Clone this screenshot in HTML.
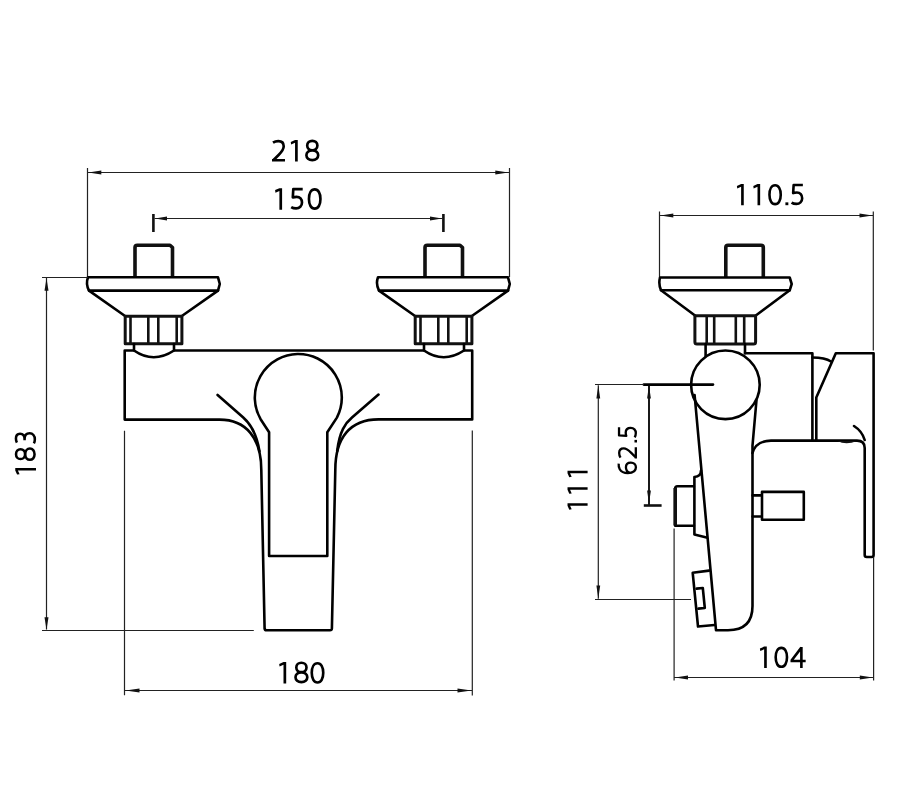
<!DOCTYPE html>
<html><head><meta charset="utf-8"><style>
html,body{margin:0;padding:0;background:#fff;width:899px;height:800px;overflow:hidden}
svg{display:block}
text{font-family:"Liberation Sans",sans-serif;fill:#1a1a1a}
.s2{fill:none;stroke:#000;stroke-width:2.6;stroke-linejoin:round;stroke-linecap:round}
.s25{fill:none;stroke:#111;stroke-width:2.6;stroke-linecap:butt}
.s3{fill:none;stroke:#111;stroke-width:3.6;stroke-linejoin:round;stroke-linecap:butt}
.s3n{fill:none;stroke:#111;stroke-width:3;stroke-linejoin:round}
.t1{fill:none;stroke:#222;stroke-width:1.2}
.t12{fill:none;stroke:#000;stroke-width:1.8}
.f{fill:#111;stroke:none}
.gs{fill:none;stroke:#000;stroke-width:2.65;stroke-linecap:butt;stroke-linejoin:round}
.gf{fill:#000;stroke:none}
</style></head><body>
<svg width="899" height="800" viewBox="0 0 899 800">
<rect width="899" height="800" fill="#fff"/>
<path class="t1" d="M87.5,168 V277 M509.5,168 V277 M88,172.5 H509"/>
<path d="M88.30,172.50 L101.30,170.50 L101.30,174.50 Z" class="f"/>
<path d="M508.30,172.50 L495.30,174.50 L495.30,170.50 Z" class="f"/>
<path transform="translate(272.00,161.60)" d="M1.0,-18.9 C2.5,-19.9 4.3,-20.45 6.3,-20.45 C9.7,-20.45 11.7,-18.4 11.7,-15.3 C11.7,-12.2 9.8,-9.8 6.6,-6.6 L1.3,-1.35 M0,-1.35 H13.0" class="gs"/>
<path transform="translate(290.75,161.60)" d="M4.3,-21.6 H7.0 V0 H4.3 V-18.85 L0.35,-17.1 L0,-19.7 Z" class="gf"/>
<path transform="translate(305.10,161.60)" d="M7.2,-20.8 C10.1,-20.8 12.3,-19.0 12.3,-16.1 C12.3,-13.2 10.1,-11.4 7.2,-11.4 C4.3,-11.4 2.1,-13.2 2.1,-16.1 C2.1,-19.0 4.3,-20.8 7.2,-20.8 Z M7.2,-11.2 C10.8,-11.2 13.1,-9.1 13.1,-6.35 C13.1,-3.6 10.8,-1.5 7.2,-1.5 C3.6,-1.5 1.3,-3.6 1.3,-6.35 C1.3,-9.1 3.6,-11.2 7.2,-11.2 Z" class="gs"/>
<path class="s25" d="M153.4,214 V232 M443.4,214 V232"/>
<path class="t1" d="M154.5,218.5 H442.5"/>
<path d="M155.00,218.50 L167.00,216.60 L167.00,220.40 Z" class="f"/>
<path d="M442.00,218.50 L430.00,220.40 L430.00,216.60 Z" class="f"/>
<path transform="translate(275.10,209.75)" d="M4.3,-21.6 H7.0 V0 H4.3 V-18.85 L0.35,-17.1 L0,-19.7 Z" class="gf"/>
<path transform="translate(290.40,209.75)" d="M12.3,-20.6 H2.9 L2.4,-12.3 C3.7,-12.8 5.0,-12.95 6.2,-12.95 C9.6,-12.95 11.6,-10.5 11.6,-7.2 C11.6,-3.6 9.1,-1.35 5.7,-1.35 C3.7,-1.35 2.0,-1.9 0.8,-2.7" class="gs"/>
<path transform="translate(307.60,209.75)" d="M7.1,-20.35 C10.6,-20.35 12.85,-16.6 12.85,-10.75 C12.85,-4.9 10.6,-1.1 7.1,-1.1 C3.6,-1.1 1.35,-4.9 1.35,-10.75 C1.35,-16.6 3.6,-20.35 7.1,-20.35 Z" class="gs"/>
<path class="s3" d="M135,277 V247.5 Q135,245.2 137.3,245.2 H170 L172.5,247.5 V277"/>
<path class="s2" d="M88,277.3 H218 L219.8,284 L218,290.6 H89 Q85.5,284 88,277.3 Z"/>
<path class="s2" d="M89,290.6 L124.7,315.8 M218,290.6 L182.2,315.8"/>
<path class="s3n" d="M125.2,316.2 H181.9 V343.8 H125.2 Z"/>
<path class="s25" d="M130.5,316 V344 M148.3,316 V344 M158.3,316 V344 M176.7,316 V344"/>
<path class="s2" d="M134,344 V350.5 Q153.5,364 174,350.5 V344"/>
<path class="s3" d="M425,277 V247.5 Q425,245.2 427.3,245.2 H460 L462.5,247.5 V277"/>
<path class="s2" d="M378,277.3 H508 L509.8,284 L508,290.6 H379 Q375.5,284 378,277.3 Z"/>
<path class="s2" d="M379,290.6 L414.7,315.8 M508,290.6 L472.2,315.8"/>
<path class="s3n" d="M415.2,316.2 H471.9 V343.8 H415.2 Z"/>
<path class="s25" d="M420.5,316 V344 M438.3,316 V344 M448.3,316 V344 M466.7,316 V344"/>
<path class="s2" d="M424,344 V350.5 Q443.5,364 464,350.5 V344"/>
<path class="s2" d="M134,350.5 H124.7 V419.6 H219.6 C246,419.6 261.3,438 261.3,470 L264.6,628.5 Q264.8,630.3 266.6,630.3 H330 Q331.8,630.3 331.9,628.5 L335.3,470 C335.3,438 350,419.4 378.5,419.4 H472.2 V350.5 H464"/>
<path class="s2" d="M174,350.5 H424"/>
<path class="s2" d="M217.6,394.9 L243,417.3 C250,423.5 256.5,432 259.4,451 M378.5,394.6 L352,417.5 C345.5,423 339.5,431 337.2,451"/>
<path class="s2" d="M269.1,556 V432.3 L260.6,419.2 A43.5,43.5 0 1 1 336.9,417.6 L327.3,432.2 V556 Z"/>
<path class="t1" d="M124.5,430.8 V695.3 M472.3,430.5 V695.5 M125,690.5 H472"/>
<path d="M125.50,690.50 L139.50,688.60 L139.50,692.40 Z" class="f"/>
<path d="M471.50,690.50 L457.50,692.40 L457.50,688.60 Z" class="f"/>
<path transform="translate(279.20,683.60)" d="M4.3,-21.6 H7.0 V0 H4.3 V-18.85 L0.35,-17.1 L0,-19.7 Z" class="gf"/>
<path transform="translate(294.20,683.60)" d="M7.2,-20.8 C10.1,-20.8 12.3,-19.0 12.3,-16.1 C12.3,-13.2 10.1,-11.4 7.2,-11.4 C4.3,-11.4 2.1,-13.2 2.1,-16.1 C2.1,-19.0 4.3,-20.8 7.2,-20.8 Z M7.2,-11.2 C10.8,-11.2 13.1,-9.1 13.1,-6.35 C13.1,-3.6 10.8,-1.5 7.2,-1.5 C3.6,-1.5 1.3,-3.6 1.3,-6.35 C1.3,-9.1 3.6,-11.2 7.2,-11.2 Z" class="gs"/>
<path transform="translate(310.40,683.60)" d="M7.1,-20.35 C10.6,-20.35 12.85,-16.6 12.85,-10.75 C12.85,-4.9 10.6,-1.1 7.1,-1.1 C3.6,-1.1 1.35,-4.9 1.35,-10.75 C1.35,-16.6 3.6,-20.35 7.1,-20.35 Z" class="gs"/>
<path class="t1" d="M42,277.5 H88 M42,630.5 H253.8 M46.5,278 V629.5"/>
<path d="M46.50,278.30 L48.50,290.80 L44.50,290.80 Z" class="f"/>
<path d="M46.50,629.80 L44.50,617.30 L48.50,617.30 Z" class="f"/>
<path transform="translate(36.00,474.60) rotate(-90) scale(0.960)" d="M4.3,-21.6 H7.0 V0 H4.3 V-18.85 L0.35,-17.1 L0,-19.7 Z" class="gf"/>
<path transform="translate(36.00,461.10) rotate(-90) scale(0.960)" d="M7.2,-20.8 C10.1,-20.8 12.3,-19.0 12.3,-16.1 C12.3,-13.2 10.1,-11.4 7.2,-11.4 C4.3,-11.4 2.1,-13.2 2.1,-16.1 C2.1,-19.0 4.3,-20.8 7.2,-20.8 Z M7.2,-11.2 C10.8,-11.2 13.1,-9.1 13.1,-6.35 C13.1,-3.6 10.8,-1.5 7.2,-1.5 C3.6,-1.5 1.3,-3.6 1.3,-6.35 C1.3,-9.1 3.6,-11.2 7.2,-11.2 Z" class="gs"/>
<path transform="translate(36.00,443.90) rotate(-90) scale(0.960)" d="M1.3,-19.9 C2.5,-20.6 3.9,-20.9 5.5,-20.9 C8.7,-20.9 10.5,-19.1 10.5,-16.6 C10.5,-13.6 8.2,-11.9 5.0,-11.9 H3.9 M5.0,-11.9 C8.8,-11.9 11.0,-9.7 11.0,-6.6 C11.0,-3.3 8.5,-1.2 4.9,-1.2 C3.2,-1.2 1.6,-1.6 0.6,-2.2" class="gs"/>
<path class="t1" d="M659.5,211.5 V277.5 M873.3,211.5 V350.5 M660,215.5 H873"/>
<path d="M660.30,215.50 L673.30,213.50 L673.30,217.50 Z" class="f"/>
<path d="M872.50,215.50 L859.50,217.50 L859.50,213.50 Z" class="f"/>
<path transform="translate(736.90,205.20) scale(0.980)" d="M4.3,-21.6 H7.0 V0 H4.3 V-18.85 L0.35,-17.1 L0,-19.7 Z" class="gf"/>
<path transform="translate(753.30,205.20) scale(0.980)" d="M4.3,-21.6 H7.0 V0 H4.3 V-18.85 L0.35,-17.1 L0,-19.7 Z" class="gf"/>
<path transform="translate(768.15,205.20) scale(0.980)" d="M7.1,-20.35 C10.6,-20.35 12.85,-16.6 12.85,-10.75 C12.85,-4.9 10.6,-1.1 7.1,-1.1 C3.6,-1.1 1.35,-4.9 1.35,-10.75 C1.35,-16.6 3.6,-20.35 7.1,-20.35 Z" class="gs"/>
<path transform="translate(785.40,205.20) scale(0.980)" d="M0,-2.9 H3.0 V0 H0 Z" class="gf"/>
<path transform="translate(790.80,205.20) scale(0.980)" d="M12.3,-20.6 H2.9 L2.4,-12.3 C3.7,-12.8 5.0,-12.95 6.2,-12.95 C9.6,-12.95 11.6,-10.5 11.6,-7.2 C11.6,-3.6 9.1,-1.35 5.7,-1.35 C3.7,-1.35 2.0,-1.9 0.8,-2.7" class="gs"/>
<path class="s3" d="M725.8,277.5 V247.5 Q725.8,245.2 728,245.2 H761 Q763.3,245.2 763.3,247.5 V277.5"/>
<path class="s2" d="M660,277.5 H789.7 L791.7,284 L789.7,290.3 H661 Q658.3,284 660,277.5 Z"/>
<path class="s2" d="M661,290.3 L695,315.5 M789.7,290.3 L755.8,315.5"/>
<path class="s3n" d="M694.9,315.8 H755.6 V342 Q755.6,344 753.6,344 H696.9 Q694.9,344 694.9,342 Z"/>
<path class="s25" d="M706.7,316 V344 M714.2,316 V344 M735.8,316 V344 M744.2,316 V344"/>
<path class="s2" d="M705.6,344 V356 M745,344 V353.2"/>
<circle class="s2" cx="725.4" cy="384.8" r="34.3"/>
<path class="s2" d="M694.6,395 L716,630.2 H728 C746,630.2 752.5,620 752.5,606 V445.5 L756.5,400"/>
<path class="s2" d="M643.8,384.6 H713"/>
<path class="s2" d="M745,353.2 H812.4 V440.6 M816.3,440.6 V397.6 L835.8,353.2 H873.6 V555 Q873.6,557 871.6,557 H866.7 Q864.7,557 864.7,555 V448 Q864.7,440.6 857,440.6 H771 Q756,440.75 752.5,453"/>
<path class="s2" d="M812.4,357.5 Q825,357.5 831,361.5"/>
<path class="s2" d="M854,426 Q862,431 864.7,440"/>
<path class="f" d="M837.5,441 Q846,445.6 857,441 Z"/>
<path class="s2" d="M752.6,495.4 H762 V516.5 H752.6 M762,491.9 H803.8 V519.8 H762 Z"/>
<path class="s2" d="M701,470.5 Q701,476.5 694.4,477 V534.5 L706.5,537.5"/>
<path class="s2" d="M693.9,486.3 H677.5 Q675.2,486.3 675.2,488.5 V525.7 H693.9"/>
<path class="s3" d="M675.2,488 V525.5"/>
<path class="s2" d="M709,570.6 L692.7,572.8 L698,626.5 L714.5,625"/>
<path class="s2" d="M696.6,588.6 L702.8,588 L704.8,608 L698.4,608.6"/>
<path class="t1" d="M595,384.5 H644 M598.3,385.2 V598.8 M595,599.5 H691"/>
<path d="M598.30,385.50 L600.20,398.50 L596.40,398.50 Z" class="f"/>
<path d="M598.30,598.60 L596.40,585.60 L600.20,585.60 Z" class="f"/>
<path transform="translate(587.60,509.70) rotate(-90) scale(0.930)" d="M4.3,-21.6 H7.0 V0 H4.3 V-18.85 L0.35,-17.1 L0,-19.7 Z" class="gf"/>
<path transform="translate(587.60,493.75) rotate(-90) scale(0.930)" d="M4.3,-21.6 H7.0 V0 H4.3 V-18.85 L0.35,-17.1 L0,-19.7 Z" class="gf"/>
<path transform="translate(587.60,477.20) rotate(-90) scale(0.930)" d="M4.3,-21.6 H7.0 V0 H4.3 V-18.85 L0.35,-17.1 L0,-19.7 Z" class="gf"/>
<path class="t12" d="M649,385.2 V505"/>
<path d="M649.00,385.50 L650.90,398.50 L647.10,398.50 Z" class="f"/>
<path d="M649.00,503.50 L647.10,490.50 L650.90,490.50 Z" class="f"/>
<path class="s25" d="M643.8,505.5 H661.6"/>
<path transform="translate(637.00,473.80) rotate(-90) scale(0.872)" d="M11.6,-21.0 C9.5,-21.2 7.2,-21.0 5.2,-19.8 C2.4,-18.2 0.75,-15.0 0.75,-10.5 C0.75,-4.5 3.5,-1.25 7.4,-1.25 C10.8,-1.25 12.9,-3.7 12.9,-7.0 C12.9,-10.4 10.8,-12.7 7.6,-12.7 C4.8,-12.7 2.4,-11.1 1.3,-8.7" class="gs"/>
<path transform="translate(637.00,458.60) rotate(-90) scale(0.872)" d="M1.0,-18.9 C2.5,-19.9 4.3,-20.45 6.3,-20.45 C9.7,-20.45 11.7,-18.4 11.7,-15.3 C11.7,-12.2 9.8,-9.8 6.6,-6.6 L1.3,-1.35 M0,-1.35 H13.0" class="gs"/>
<path transform="translate(637.00,442.50) rotate(-90) scale(0.872)" d="M0,-2.9 H3.0 V0 H0 Z" class="gf"/>
<path transform="translate(637.00,438.00) rotate(-90) scale(0.872)" d="M12.3,-20.6 H2.9 L2.4,-12.3 C3.7,-12.8 5.0,-12.95 6.2,-12.95 C9.6,-12.95 11.6,-10.5 11.6,-7.2 C11.6,-3.6 9.1,-1.35 5.7,-1.35 C3.7,-1.35 2.0,-1.9 0.8,-2.7" class="gs"/>
<path class="t1" d="M674.1,528.5 V680.5 M873.6,557 V680.5 M674.5,677.5 H873"/>
<path d="M675.00,677.50 L688.00,675.60 L688.00,679.40 Z" class="f"/>
<path d="M872.80,677.50 L859.80,679.40 L859.80,675.60 Z" class="f"/>
<path transform="translate(759.90,667.90) scale(0.985)" d="M4.3,-21.6 H7.0 V0 H4.3 V-18.85 L0.35,-17.1 L0,-19.7 Z" class="gf"/>
<path transform="translate(774.35,667.90) scale(0.985)" d="M7.1,-20.35 C10.6,-20.35 12.85,-16.6 12.85,-10.75 C12.85,-4.9 10.6,-1.1 7.1,-1.1 C3.6,-1.1 1.35,-4.9 1.35,-10.75 C1.35,-16.6 3.6,-20.35 7.1,-20.35 Z" class="gs"/>
<path transform="translate(790.50,667.90) scale(0.985)" d="M11.05,0 V-21.3 M11.05,-20.6 L0.9,-7.3 M0,-6.95 H15.4" class="gs"/>
</svg>
</body></html>
